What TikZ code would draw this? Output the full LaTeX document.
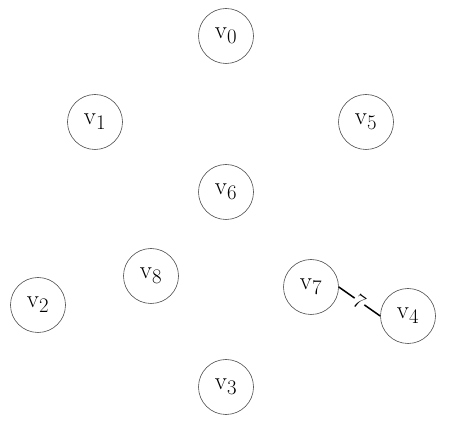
\documentclass[tikz,border=0pt]{standalone}
\begin{document}
\begin{tikzpicture}[x=1pt,y=-1pt,
  vtx/.style={circle,draw=black!70,line width=0.6pt,minimum size=55pt,inner sep=0pt,font=\Huge},
  edgeline/.style={line width=1.5pt,black},
  elabel/.style={fill=white,inner sep=1pt,font=\huge,sloped}]
\useasboundingbox (0,0) rectangle (450,427);
\node[vtx] (v0) at (226,36) {v$_0$};
\node[vtx] (v1) at (95,122) {v$_1$};
\node[vtx] (v5) at (366,122) {v$_5$};
\node[vtx] (v6) at (226,192) {v$_6$};
\node[vtx] (v8) at (151,276) {v$_8$};
\node[vtx] (v2) at (38,305) {v$_2$};
\node[vtx] (v7) at (311,287) {v$_7$};
\node[vtx] (v4) at (408,316) {v$_4$};
\node[vtx] (v3) at (226,387) {v$_3$};
\draw[edgeline] (v7.east) -- node[elabel] (l74) {7} (v4.west);
\end{tikzpicture}
\end{document}
